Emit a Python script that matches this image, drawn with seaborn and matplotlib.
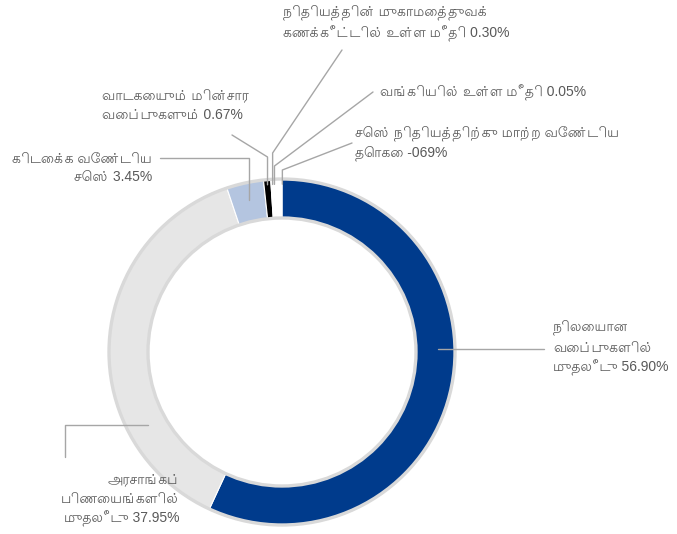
import numpy as np
import matplotlib
matplotlib.use("Agg")
import matplotlib.pyplot as plt
import matplotlib.patches as mpatches
import seaborn as sns

sns.set_style('white')
plt.rcParams['font.family'] = ['Liberation Sans', 'Lohit Tamil', 'Noto Sans Tamil', 'DejaVu Sans']

# slices, clockwise from 12 o'clock
labels = [
    "நிலையான\nவைப்புகளில்\nமுதலீடு 56.90%",
    "அரசாங்கப்\nபிணையங்களில்\nமுதலீடு 37.95%",
    "கிடைக்க வேண்டிய\nசெஸ் 3.45%",
    "வாடகையும் மின்சார\nவைப்புகளும் 0.67%",
    "நிதியத்தின் முகாமைத்துவக்\nகணக்கீட்டில் உள்ள மீதி 0.30%",
    "வங்கியில் உள்ள மீதி 0.05%",
    "செஸ் நிதியத்திற்கு மாற்ற வேண்டிய\nதொகை -069%",
]
values = [56.90, 37.95, 3.45, 0.67, 0.30, 0.05, -0.69]
colors = ['#003b8c', '#e6e6e6', '#b4c5e0', '#000000', '#ffffff', '#4f7ec0', '#ffffff']

W, H = 677, 534
cx, cy, R, ring = 282, H - 352, 173, 39

fig = plt.figure(figsize=(W / 100, H / 100), dpi=100)
ax = fig.add_axes([0, 0, 1, 1])

wedges, _ = ax.pie(np.abs(values), colors=colors, startangle=90, counterclock=False,
                   center=(cx, cy), radius=R, frame=True,
                   wedgeprops=dict(width=ring, edgecolor='white', linewidth=0.8))
ax.set_xlim(0, W)
ax.set_ylim(0, H)
ax.set_aspect('equal')
ax.axis('off')

# light grey outline of the ring
for r in (R, R - ring):
    ax.add_patch(mpatches.Circle((cx, cy), r, fill=False, ec='#d9d9d9', lw=2.4, zorder=3))


def ring_point(w, frac):
    th = np.deg2rad((w.theta1 + w.theta2) / 2)
    return cx + frac * R * np.cos(th), cy + frac * R * np.sin(th)


line_kw = dict(color='#a6a6a6', lw=1.0, zorder=4)
text_kw = dict(fontsize=10, color='#595959', linespacing=1.45, va='center')

# 56.90 - horizontal leader to the right
ax.plot([cx + 0.9 * R, 544], [cy + 3, cy + 3], **line_kw)
ax.text(553, H - 348, labels[0], ha='left', multialignment='left', **text_kw)

# 37.95 - elbow to the lower left
ax.plot([148, 65, 65], [H - 425, H - 425, H - 457], **line_kw)
ax.text(180, H - 500, labels[1], ha='right', multialignment='right', **text_kw)

# 3.45
x, y = ring_point(wedges[2], 0.9)
ax.plot([160, x, x], [H - 158, H - 158, y], **line_kw)
ax.text(152, H - 168, labels[2], ha='right', multialignment='right', **text_kw)

# small slices near the top
small = [
    (3, (232, 135), 157, (102, 105)),
    (4, (342, 50), 153, (283, 23)),
    (5, (373, 92), 166, (380, 93)),
    (6, (352, 143), 170, (355, 143)),
]
for i, start, elbow, pos in small:
    x, y = ring_point(wedges[i], 0.97)
    if i == 6:
        x = x + 4
    ax.plot([start[0], x, x], [H - start[1], H - elbow, y], **line_kw)
    ax.text(pos[0], H - pos[1], labels[i], ha='left', multialignment='left', **text_kw)

fig.savefig('out.png', dpi=100)
